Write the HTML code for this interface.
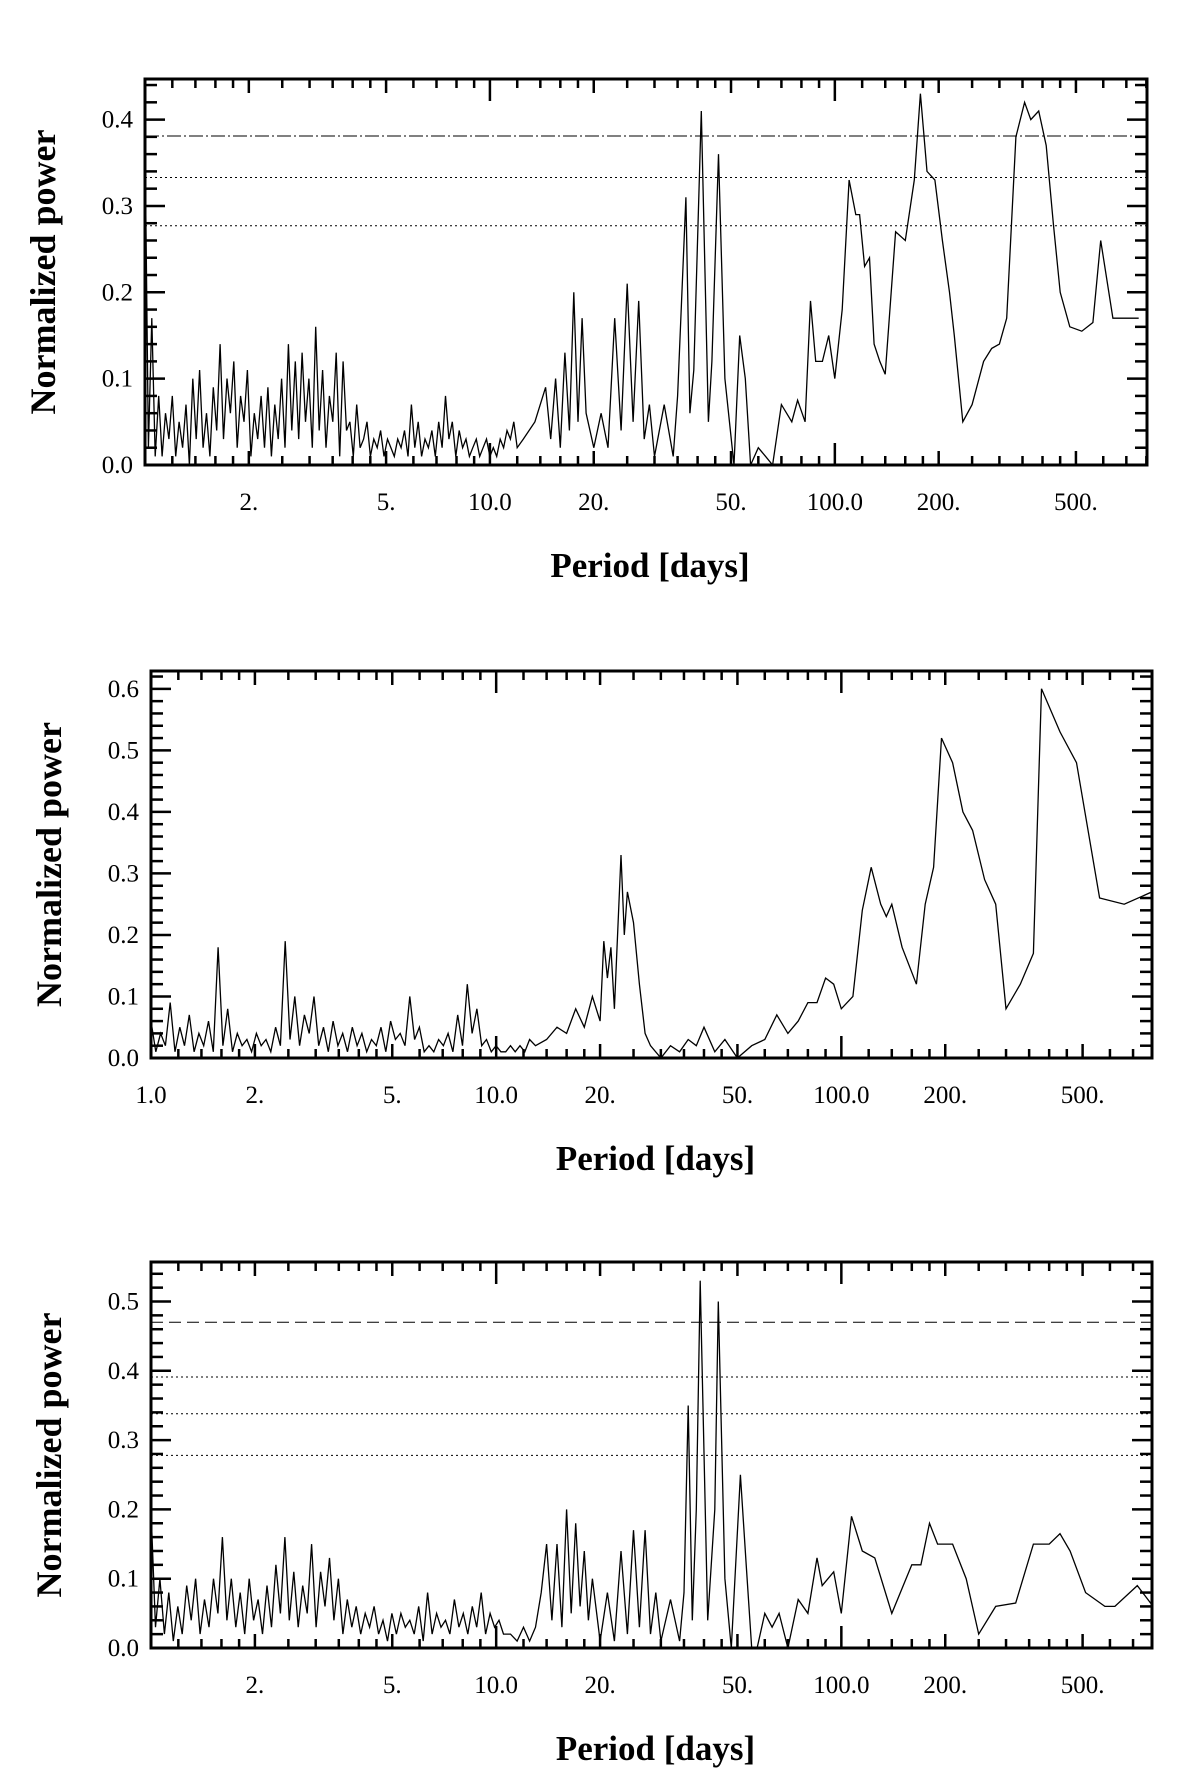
<!DOCTYPE html>
<html><head><meta charset="utf-8">
<style>
html,body{margin:0;padding:0;background:#fff;}
svg{display:block;}
text{font-family:"Liberation Serif",serif;fill:#000;}
</style></head>
<body>
<svg id="chart" width="1200" height="1770" viewBox="0 0 1200 1770" xmlns="http://www.w3.org/2000/svg"></svg>
<script>
// ---------- Panel 1 data ----------
const p1NoiseVals = [0.38,0.02,0.17,0.01,0.08,0.01,0.06,0.03,0.08,0.01,0.05,0.02,0.07,0.0,0.1,0.03,0.11,0.02,0.06,0.01,0.09,0.04,0.14,0.03,0.1,0.06,0.12,0.02,0.08,0.05,0.11,0.01,0.06,0.03,0.08,0.02,0.09,0.01,0.07,0.03,0.1,0.02,0.14,0.04,0.12,0.03,0.13,0.05,0.1,0.02,0.16,0.04,0.11,0.02,0.08,0.05,0.13,0.01,0.12,0.04,0.05,0.01,0.07,0.02,0.03,0.05,0.01,0.03,0.02,0.04,0.01,0.03,0.02,0.01,0.03,0.02,0.04,0.01,0.07,0.02,0.05,0.01,0.03,0.02,0.04,0.01,0.05,0.02,0.08,0.03,0.05,0.01,0.04,0.02,0.03,0.01,0.02,0.03,0.01,0.02,0.03,0.01,0.02,0.01,0.03,0.02,0.04,0.03,0.05,0.02];
const p1Periods = [12.5,13.5,14.5,15,15.5,16,16.5,17,17.5,18,18.5,19,20,21,22,23,24,25,26,27,28,29,30,32,34,35,37,38,39,41,43,44,46,48,51,53,55,57,60,63,66,70,75,78,82,85,88,92,96,100,105,110,115,118,122,126,130,135,140,150,160,170,177,185,195,205,215,222,235,250,270,285,300,315,335,355,370,390,410,430,450,480,520,560,590,640,700,760,804];
const p1Power   = [0.03,0.05,0.09,0.03,0.1,0.02,0.13,0.04,0.2,0.05,0.17,0.06,0.02,0.06,0.02,0.17,0.04,0.21,0.05,0.19,0.03,0.07,0.01,0.07,0.01,0.08,0.31,0.06,0.11,0.41,0.05,0.12,0.36,0.1,0.0,0.15,0.1,0.0,0.02,0.01,0.0,0.07,0.05,0.075,0.05,0.19,0.12,0.12,0.15,0.1,0.18,0.33,0.29,0.29,0.23,0.24,0.14,0.12,0.105,0.27,0.26,0.33,0.43,0.34,0.33,0.26,0.2,0.15,0.05,0.07,0.12,0.135,0.14,0.17,0.38,0.42,0.40,0.41,0.37,0.28,0.2,0.16,0.155,0.165,0.26,0.17,0.17,0.17];
const p1Levels = [0.381,0.333,0.277];
const p1LevelStyles = ["dashdot","dot","dot"];
const p1YTicks = [0.0,0.1,0.2,0.3,0.4];

// ---------- Panel 2 data ----------
const p2NoiseVals = [0.06,0.01,0.04,0.02,0.09,0.01,0.05,0.02,0.07,0.01,0.04,0.02,0.06,0.01,0.18,0.02,0.08,0.01,0.04,0.02,0.03,0.01,0.04,0.02,0.03,0.01,0.05,0.02,0.19,0.03,0.1,0.02,0.07,0.04,0.1,0.02,0.05,0.01,0.06,0.02,0.04,0.01,0.05,0.02,0.04,0.01,0.03,0.02,0.05,0.01,0.06,0.03,0.04,0.02,0.1,0.03,0.05,0.01,0.02,0.01,0.03,0.02,0.04,0.01,0.07,0.02,0.12,0.04,0.08,0.02,0.03,0.01,0.02,0.01,0.01,0.02,0.01,0.02,0.01,0.03];
const p2Periods = [13,14,15,16,17,18,19,20,20.5,21,21.5,22,23,23.5,24,25,26,27,28,30,32,34,36,38,40,43,46,50,55,60,65,70,75,80,85,90,95,100,108,115,122,130,135,140,150,165,175,185,195,210,225,240,260,280,300,330,360,380,430,480,560,660,794];
const p2Power   = [0.02,0.03,0.05,0.04,0.08,0.05,0.1,0.06,0.19,0.13,0.18,0.08,0.33,0.2,0.27,0.22,0.12,0.04,0.02,0.0,0.02,0.01,0.03,0.02,0.05,0.01,0.03,0.0,0.02,0.03,0.07,0.04,0.06,0.09,0.09,0.13,0.12,0.08,0.1,0.24,0.31,0.25,0.23,0.25,0.18,0.12,0.25,0.31,0.52,0.48,0.4,0.37,0.29,0.25,0.08,0.12,0.17,0.6,0.53,0.48,0.26,0.25,0.27];
const p2YTicks = [0.0,0.1,0.2,0.3,0.4,0.5,0.6];

// ---------- Panel 3 data ----------
const p3NoiseVals = [0.2,0.03,0.1,0.02,0.08,0.01,0.06,0.02,0.09,0.04,0.1,0.02,0.07,0.03,0.1,0.05,0.16,0.04,0.1,0.03,0.08,0.02,0.1,0.04,0.07,0.02,0.09,0.03,0.12,0.05,0.16,0.04,0.11,0.03,0.09,0.05,0.15,0.03,0.11,0.06,0.13,0.04,0.1,0.02,0.07,0.03,0.06,0.02,0.05,0.03,0.06,0.02,0.04,0.01,0.05,0.02,0.05,0.03,0.04,0.02,0.06,0.01,0.08,0.02,0.05,0.03,0.04,0.02,0.07,0.03,0.05,0.02,0.06,0.03,0.08,0.02,0.05,0.03,0.04,0.02];
const p3Periods = [11,11.5,12,12.5,13,13.5,14,14.5,15,15.5,16,16.5,17,17.5,18,18.5,19,20,21,22,23,24,25,26,27,28,29,30,32,34,35,36,37,38,39,41,43,44,46,48,51,53,55,57,60,63,66,70,75,80,85,88,95,100,107,115,125,140,160,170,180,190,210,230,250,280,320,360,400,430,460,510,580,620,720,800];
const p3Power   = [0.02,0.01,0.03,0.01,0.03,0.08,0.15,0.04,0.15,0.03,0.2,0.05,0.18,0.06,0.14,0.04,0.1,0.01,0.08,0.01,0.14,0.02,0.17,0.03,0.17,0.02,0.08,0.01,0.07,0.01,0.08,0.35,0.04,0.2,0.53,0.04,0.2,0.5,0.1,0.0,0.25,0.12,0.0,0.0,0.05,0.03,0.05,0.0,0.07,0.05,0.13,0.09,0.11,0.05,0.19,0.14,0.13,0.05,0.12,0.12,0.18,0.15,0.15,0.1,0.02,0.06,0.065,0.15,0.15,0.165,0.14,0.08,0.06,0.06,0.09,0.06];
const p3Levels = [0.47,0.391,0.338,0.278];
const p3LevelStyles = ["dash","dot","dot","dot"];
const p3YTicks = [0.0,0.1,0.2,0.3,0.4,0.5];

const xTickVals = [1,2,5,10,20,50,100,200,500];
const xTickLabels = ["1.0","2.","5.","10.0","20.","50.","100.0","200.","500."];

const NS = "http://www.w3.org/2000/svg";
const svg = document.getElementById("chart");
function mk(tag, attrs, parent){
  const e = document.createElementNS(NS, tag);
  for (const k in attrs) e.setAttribute(k, attrs[k]);
  (parent||svg).appendChild(e);
  return e;
}

function drawPanel(cfg){
  const g = mk("g", {});
  
  
  const L=cfg.left, R=cfg.right, T=cfg.top, B=cfg.bottom;
  const lmax = cfg.logMax;
  const xs = p => L + Math.log10(p)/lmax*(R-L);
  const ys = v => B - v/cfg.yMax*(B-T);

  const cid = "clip-"+cfg.name;
  const cp = mk("clipPath", {id:cid}, g);
  mk("rect", {x:L, y:T, width:R-L, height:B-T}, cp);

  (cfg.levels||[]).forEach((lv,i)=>{
    const st = cfg.levelStyles[i];
    const dash = st==="dashdot" ? "14,3,2,3" : (st==="dash" ? "12,6" : "2,3");
    const ln = mk("line", {x1:L, x2:R, y1:ys(lv), y2:ys(lv), stroke:"#000", "stroke-width":1, "stroke-dasharray":dash}, g);
    
    
  });

  const pts = [];
  const n = cfg.noise.length;
  for (let i=0;i<n;i++){
    const p = Math.pow(10, Math.log10(cfg.noiseEnd)*i/(n-1));
    pts.push([xs(p), ys(cfg.noise[i])]);
  }
  for (let i=0;i<cfg.periods.length;i++) pts.push([xs(cfg.periods[i]), ys(cfg.power[i])]);
  const path = mk("path", {d:"M"+pts.map(q=>q[0].toFixed(1)+","+q[1].toFixed(1)).join("L"), fill:"none", stroke:"#000", "stroke-width":1.3, "clip-path":"url(#"+cid+")"}, g);
  
  

  const fr = mk("rect", {x:L, y:T, width:R-L, height:B-T, fill:"none", stroke:"#000", "stroke-width":3}, g);
  
  

  const minor = [];
  for (let d=1; d<=1000; d*=10){
    [1,1.2,1.4,1.6,1.8,2,2.5,3,3.5,4,4.5,5,6,7,8,9].forEach(m=>{
      const p=m*d; if (Math.log10(p)<=lmax) minor.push([p, m===1?22:(m===2||m===5?14:9)]);
    });
  }
  minor.forEach(([p,len])=>{
    const x = xs(p);
    mk("line",{x1:x,x2:x,y1:T,y2:T+len,stroke:"#000","stroke-width":2.5},g);
    mk("line",{x1:x,x2:x,y1:B,y2:B-len,stroke:"#000","stroke-width":2.5},g);
  });
  for (let v=0; v<=cfg.yMax+1e-9; v+=0.02){
    const major = Math.abs(v*10-Math.round(v*10))<1e-6;
    const len = major?20:12;
    const y = ys(v);
    mk("line",{x1:L,x2:L+len,y1:y,y2:y,stroke:"#000","stroke-width":2.5},g);
    mk("line",{x1:R,x2:R-len,y1:y,y2:y,stroke:"#000","stroke-width":2.5},g);
  }
  cfg.yTicks.forEach(v=>{
    const t = mk("text",{x:L-12,y:ys(v)+8,"text-anchor":"end","font-size":25},g);
    t.textContent = v.toFixed(1);
    
    
  });
  xTickVals.forEach((p,i)=>{
    if (p===1 && !cfg.showOne) return;
    const t = mk("text",{x:xs(p),y:B+45,"text-anchor":"middle","font-size":25},g);
    t.textContent = xTickLabels[i];
    
    
  });
  const xt = mk("text",{x:(L+R)/2+4,y:B+112,"text-anchor":"middle","font-size":35,"font-weight":"bold"},g);
  xt.textContent = "Period [days]";
  
  
  const yt = mk("text",{x:0,y:0,"text-anchor":"middle","font-size":36,"font-weight":"bold",transform:"translate("+(L-90)+","+((T+B)/2)+") rotate(-90)"},g);
  yt.textContent = "Normalized power";
  
  
}

drawPanel({name:"panel-1", left:145, right:1147, top:79, bottom:465, logMax:2.905, yMax:0.447, noise:p1NoiseVals, noiseEnd:12, periods:p1Periods, power:p1Power, levels:p1Levels, levelStyles:p1LevelStyles, yTicks:p1YTicks, showOne:false});
drawPanel({name:"panel-2", left:151, right:1152, top:671, bottom:1058, logMax:2.9, yMax:0.629, noise:p2NoiseVals, noiseEnd:12.5, periods:p2Periods, power:p2Power, levels:[], levelStyles:[], yTicks:p2YTicks, showOne:true});
drawPanel({name:"panel-3", left:151, right:1152, top:1262, bottom:1648, logMax:2.9, yMax:0.557, noise:p3NoiseVals, noiseEnd:10.5, periods:p3Periods, power:p3Power, levels:p3Levels, levelStyles:p3LevelStyles, yTicks:p3YTicks, showOne:false});
</script>
</body></html>
